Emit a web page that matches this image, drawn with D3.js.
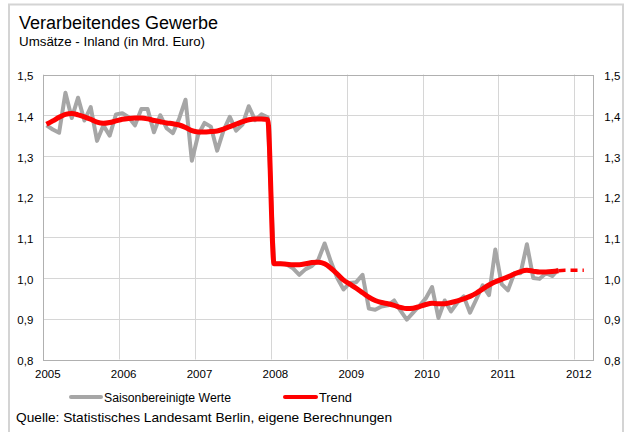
<!DOCTYPE html>
<html><head><meta charset="utf-8">
<script src="https://cdn.jsdelivr.net/npm/d3@7"></script>
<style>
html,body{margin:0;padding:0;background:#fff;}
svg text{font-family:"Liberation Sans",Arial,Helvetica,sans-serif;fill:#000;}
</style></head>
<body>
<svg id="chart" width="629" height="432"></svg>
<script>
// ---- data ----
const title = "Verarbeitendes Gewerbe";
const subtitle = "Umsätze - Inland (in Mrd. Euro)";
const source = "Quelle: Statistisches Landesamt Berlin, eigene Berechnungen";
const seriesNames = ["Saisonbereinigte Werte", "Trend"];
const startYear = 2005; // first value = January 2005, monthly values
const xTicks = [2005, 2006, 2007, 2008, 2009, 2010, 2011, 2012];
const yTicks = [0.8, 0.9, 1.0, 1.1, 1.2, 1.3, 1.4, 1.5];

// seasonally adjusted values, Jan 2005 .. Oct 2011
const saison = [
  1.375, 1.365, 1.357, 1.455, 1.393, 1.443, 1.387, 1.420, 1.337, 1.375, 1.350, 1.402,
  1.405, 1.395, 1.375, 1.415, 1.415, 1.358, 1.400, 1.368, 1.356, 1.392, 1.438, 1.288,
  1.352, 1.381, 1.372, 1.313, 1.362, 1.396, 1.362, 1.377, 1.422, 1.388, 1.402, 1.395,
  1.035, 1.036, 1.033, 1.024, 1.008, 1.022, 1.030, 1.045, 1.085, 1.040, 1.000, 0.972,
  0.988, 0.990, 1.008, 0.925, 0.922, 0.930, 0.933, 0.945, 0.920, 0.898, 0.915, 0.932,
  0.950, 0.978, 0.902, 0.945, 0.918, 0.940, 0.955, 0.915, 0.948, 0.982, 0.958, 1.070,
  0.985, 0.970, 1.012, 1.012, 1.083, 1.000, 0.998, 1.012, 1.005, 1.022
];
// trend, Jan 2005 .. Oct 2011
const trend = [
  1.378, 1.386, 1.395, 1.402, 1.404, 1.401, 1.396, 1.390, 1.383, 1.380, 1.382, 1.386,
  1.390, 1.392, 1.393, 1.393, 1.391, 1.387, 1.384, 1.381, 1.379, 1.376, 1.370, 1.362,
  1.359, 1.359, 1.360, 1.361, 1.366, 1.372, 1.378, 1.384, 1.389, 1.391, 1.391, 1.389,
  1.035, 1.035, 1.034, 1.033, 1.033, 1.035, 1.038, 1.039, 1.035, 1.024, 1.010, 0.995,
  0.985, 0.975, 0.964, 0.953, 0.945, 0.940, 0.937, 0.933, 0.928, 0.925, 0.926, 0.930,
  0.935, 0.938, 0.937, 0.937, 0.940, 0.944, 0.949, 0.955, 0.963, 0.973, 0.983, 0.991,
  0.997, 1.003, 1.010, 1.016, 1.019, 1.017, 1.015, 1.015, 1.016, 1.018
];
// projected trend, Oct 2011 .. Feb 2012 (index offset into the month sequence)
const trendForecastStart = 81;
const trendForecast = [1.018, 1.019, 1.019, 1.019, 1.019];

// ---- layout ----
const svg = d3.select("#chart");
const plot = {left: 43.3, right: 593.3, top: 74.5, bottom: 359.5};
const x = d3.scaleLinear().domain([2005, 2012.25]).range([plot.left, plot.right]);
const y = d3.scaleLinear().domain([0.8, 1.5]).range([plot.bottom, plot.top]);
const monthX = i => x(startYear + (i + 0.5) / 12);
const fmt = v => d3.format(".1f")(v).replace(".", ",");

// outer frame
svg.append("rect").attr("x", 9).attr("y", 4.5).attr("width", 614).attr("height", 450)
  .attr("fill", "none").attr("stroke", "#d4d4d4").attr("stroke-width", 2);

// titles
svg.append("text").attr("x", 19).attr("y", 28.5).attr("font-size", 18).text(title);
svg.append("text").attr("x", 19).attr("y", 46).attr("font-size", 13)
  .attr("textLength", 186).attr("lengthAdjust", "spacingAndGlyphs").text(subtitle);

// gridlines
const g = svg.append("g");
g.selectAll("line.h").data(yTicks).join("line")
  .attr("x1", plot.left).attr("x2", plot.right)
  .attr("y1", d => Math.round(y(d)) + 0.5).attr("y2", d => Math.round(y(d)) + 0.5)
  .attr("stroke", "#d6d6d6").attr("stroke-width", 1);
g.selectAll("line.v").data(xTicks).join("line")
  .attr("y1", plot.top).attr("y2", plot.bottom)
  .attr("x1", d => Math.round(x(d)) + 0.5).attr("x2", d => Math.round(x(d)) + 0.5)
  .attr("stroke", "#d6d6d6").attr("stroke-width", 1);
// plot frame
svg.append("rect").attr("x", Math.round(plot.left) + 0.5).attr("y", Math.round(plot.top) + 0.5)
  .attr("width", Math.round(plot.right) - Math.round(plot.left))
  .attr("height", Math.round(plot.bottom) - Math.round(plot.top))
  .attr("fill", "none").attr("stroke", "#b0b0b0").attr("stroke-width", 1);

// axes (labels only, using d3 axes)
const axL = d3.axisLeft(y).tickValues(yTicks).tickFormat(fmt).tickSize(0).tickPadding(10);
const axR = d3.axisRight(y).tickValues(yTicks).tickFormat(fmt).tickSize(0).tickPadding(11);
const axB = d3.axisBottom(x).tickValues(xTicks).tickFormat(d3.format("d")).tickSize(0).tickPadding(10);
function styleAxis(sel){
  sel.select(".domain").remove();
  sel.selectAll("text").attr("font-size", 11.5).attr("font-family", "Liberation Sans, Arial, sans-serif").attr("fill", "#000");
}
svg.append("g").attr("transform", `translate(${plot.left},1.5)`).call(axL).call(styleAxis);
svg.append("g").attr("transform", `translate(${plot.right},1.5)`).call(axR).call(styleAxis);
svg.append("g").attr("transform", `translate(4,${plot.bottom})`).call(axB).call(styleAxis);

// lines
const lineLin = d3.line().x((d, i) => monthX(i)).y(d => y(d));
svg.append("path").datum(saison).attr("d", lineLin)
  .attr("fill", "none").attr("stroke", "#a6a6a6").attr("stroke-width", 4)
  .attr("stroke-linejoin", "round").attr("stroke-linecap", "butt");
const lineSmooth = d3.line().x((d, i) => monthX(i)).y(d => y(d)).curve(d3.curveMonotoneX);
svg.append("path").datum(trend).attr("d", lineSmooth)
  .attr("fill", "none").attr("stroke", "#ff0000").attr("stroke-width", 5)
  .attr("stroke-linejoin", "round").attr("stroke-linecap", "butt");
const lineFc = d3.line().x((d, i) => monthX(trendForecastStart + i)).y(d => y(d));
svg.append("path").datum(trendForecast).attr("d", lineFc)
  .attr("fill", "none").attr("stroke", "#ff0000").attr("stroke-width", 3.5)
  .attr("stroke-dasharray", "7,5");

// legend
const legend = [
  {name: seriesNames[0], color: "#a6a6a6", x1: 71, x2: 101, w: 127},
  {name: seriesNames[1], color: "#ff0000", x1: 285, x2: 316, w: 33}
];
const lg = svg.selectAll("g.leg").data(legend).join("g");
lg.append("line").attr("x1", d => d.x1).attr("x2", d => d.x2).attr("y1", 397).attr("y2", 397)
  .attr("stroke", d => d.color).attr("stroke-width", 4).attr("stroke-linecap", "round");
lg.append("text").attr("x", d => d.x2 + 3).attr("y", 401.5).attr("font-size", 12.5)
  .attr("textLength", d => d.w).attr("lengthAdjust", "spacingAndGlyphs").text(d => d.name);

// source
svg.append("text").attr("x", 16).attr("y", 422).attr("font-size", 13)
  .attr("textLength", 376).attr("lengthAdjust", "spacingAndGlyphs").text(source);
</script>
</body></html>
